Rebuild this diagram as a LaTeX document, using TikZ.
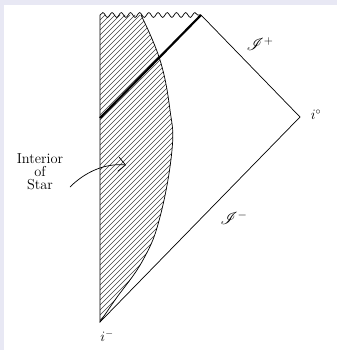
\documentclass[tikz,border=0pt]{standalone}
\usepackage{amssymb}
\usepackage{mathrsfs}
\usepackage{tikz}
\usetikzlibrary{arrows.meta,decorations.pathmorphing}
\definecolor{framebg}{RGB}{232,232,244}

\begin{document}
\begin{tikzpicture}[x=1pt,y=-1pt, every node/.style={font=\LARGE}, edge/.style={line width=0.7pt}, hatch/.style={line width=0.6pt,black!75}, arr/.style={-{Straight Barb[length=2.5mm]},line width=0.7pt}]
\useasboundingbox (0,0) rectangle (337,350);
\fill[framebg] (0,0) rectangle (337,350); \fill[white] (4,5) rectangle (337,350);
\coordinate (top) at (100,15); \coordinate (scri) at (201,15); \coordinate (izero) at (300,117); \coordinate (iminus) at (100,322); \coordinate (wall) at (100,118);
% interior of the star
\begin{scope}
\clip (top) -- plot[smooth,tension=0.7] coordinates {(141,15) (160,60) (170,110) (172,150) (160,217) (143,260) (115,300) (100,322)} -- cycle;
\foreach \c in {15,20,...,400} \draw[hatch] (100,\c) -- ++(200,-200);
\end{scope}
\draw[edge] plot[smooth,tension=0.7] coordinates {(141,15) (160,60) (170,110) (172,150) (160,217) (143,260) (115,300) (100,322)};
\draw[edge] (top) -- (iminus) -- (izero) -- (scri);
\draw[edge,decorate,decoration={snake,amplitude=2.4,segment length=9.2}] (top) -- (scri);
\draw[line width=2.2pt] (wall) -- (scri);
\node (scriplus) at (260,44) {$\mathscr{I}^{+}$};
\node (scriminus) at (234,218) {$\mathscr{I}^{-}$};
\node[font=\Large] (izerolbl) at (316,115) {$i^{\circ}$};
\node[font=\Large] (iminuslbl) at (107,336) {$i^{-}$};
\node[align=center,font=\Large,inner sep=1pt] (lbl) at (40,172) {Interior\\[-5pt]of\\[-5pt]Star};
\coordinate (astart) at (70,187); \coordinate (atip) at (126,165);
\draw[arr] (astart) .. controls (85,172) and (105,163) .. (atip);
\end{tikzpicture}
\end{document}
